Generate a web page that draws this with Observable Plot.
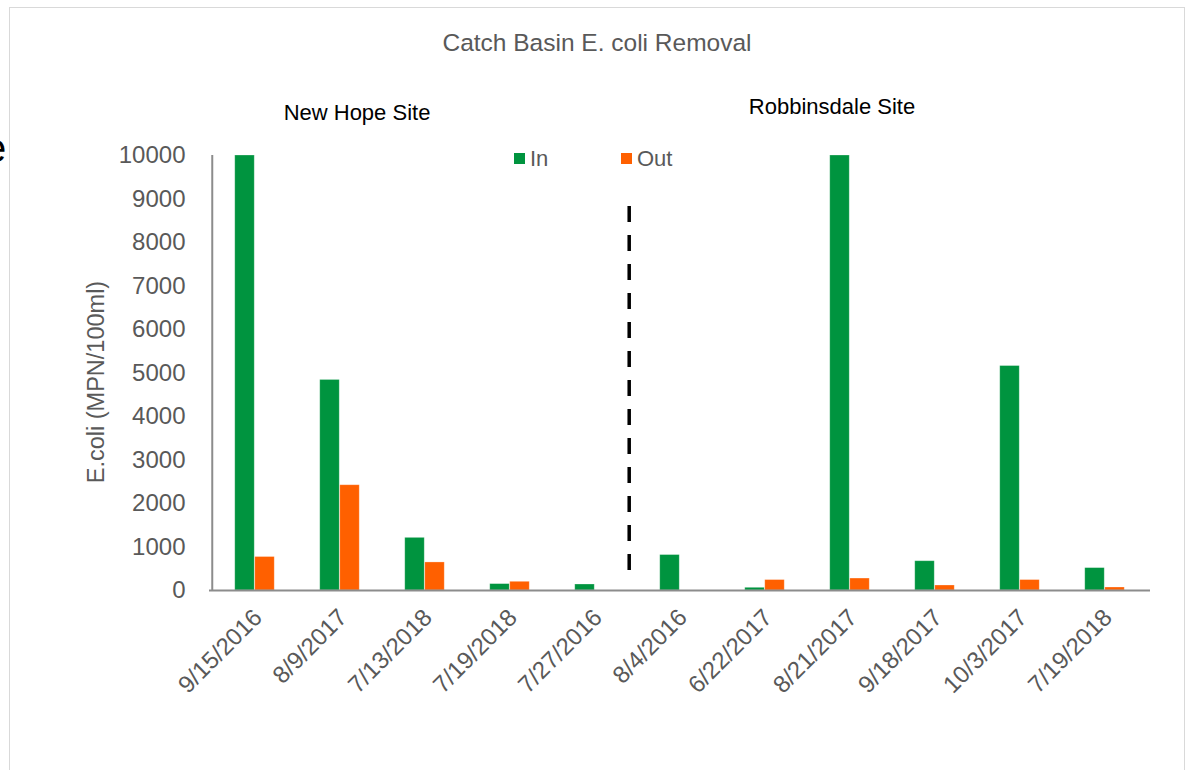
<!DOCTYPE html>
<html>
<head>
<meta charset="utf-8">
<script src="https://cdn.jsdelivr.net/npm/d3@7"></script>
<script src="https://cdn.jsdelivr.net/npm/@observablehq/plot@0.6"></script>
<style>
  html, body { margin: 0; padding: 0; background: #fff; overflow: hidden; }
  body { width: 1189px; height: 770px; position: relative; font-family: "Liberation Sans", Arial, sans-serif; }
  #frame { position: absolute; left: 9px; top: 7px; width: 1176px; height: 800px; border: 1.5px solid #d9d9d9; box-sizing: border-box; }
  #chart { position: absolute; left: 0; top: 0; }
  .lbl { position: absolute; white-space: nowrap; line-height: 1; }
  #title { left: 597px; top: 31px; transform: translateX(-50%); font-size: 24.5px; color: #595959; }
  #nh { left: 357px; top: 102px; transform: translateX(-50%); font-size: 22px; color: #000; }
  #rb { left: 832px; top: 96px; transform: translateX(-50%); font-size: 22px; color: #000; }
  #ylab { left: 97px; top: 382px; transform: translate(-50%, -50%) rotate(-90deg); font-size: 23.5px; color: #595959; }
  .sw { position: absolute; width: 11px; height: 11px; }
  #frag { left: -16px; top: 128px; font-size: 40px; color: #000; }
</style>
</head>
<body>
<div id="frame"></div>
<div id="chart"></div>
<div class="lbl" id="title">Catch Basin E. coli Removal</div>
<div class="lbl" id="nh">New Hope Site</div>
<div class="lbl" id="rb">Robbinsdale Site</div>
<div class="lbl" id="ylab">E.coli (MPN/100ml)</div>
<div class="lbl" id="frag">e</div>
<div class="sw" style="left:514px;top:153px;background:#00943F"></div>
<div class="lbl" style="left:530px;top:148px;font-size:22px;color:#595959">In</div>
<div class="sw" style="left:621px;top:153px;background:#FF6000"></div>
<div class="lbl" style="left:637px;top:148px;font-size:22px;color:#595959">Out</div>
<script>
const categories = ["9/15/2016","8/9/2017","7/13/2018","7/19/2018","7/27/2016","8/4/2016","6/22/2017","8/21/2017","9/18/2017","10/3/2017","7/19/2018"];
const inValues  = [10000, 4840, 1210, 147, 138, 815, 62, 10000, 673, 5160, 515];
const outValues = [770, 2420, 645, 200, 0, 0, 240, 275, 115, 240, 69];
const yTicks = [0,1000,2000,3000,4000,5000,6000,7000,8000,9000,10000];
const dividerAfter = 4;          // divider between New Hope and Robbinsdale groups
const dividerRange = [8830, 440]; // top and bottom of the dashed divider (data units)

const idx = categories.map((_, i) => i);
const inRows = idx.map(i => ({i, v: inValues[i]}));
const outRows = idx.map(i => ({i, v: outValues[i]}));

const chart = Plot.plot({
  width: 1189,
  height: 770,
  marginLeft: 209,
  marginRight: 39,
  marginTop: 155,
  marginBottom: 180,
  style: {fontFamily: "'Liberation Sans', Arial, sans-serif", fontSize: "22px", color: "#595959", background: "transparent", overflow: "visible"},
  x: {type: "band", domain: idx, padding: 0},
  y: {domain: [0, 10000]},
  marks: [
    Plot.barY(inRows, {x: "i", y: "v", fill: "#00943F", insetLeft: 22.75, insetRight: 42.75, stroke: "#ffffff", strokeOpacity: 0.35, strokeWidth: 0.8}),
    Plot.barY(outRows, {x: "i", y: "v", fill: "#FF6000", insetLeft: 42.75, insetRight: 22.75, stroke: "#ffffff", strokeOpacity: 0.35, strokeWidth: 0.8}),
    Plot.ruleY([0], {stroke: "#8c8c8c", strokeWidth: 2}),
    Plot.ruleX([0], {y1: 0, y2: 10000, dx: -42.75, stroke: "#8c8c8c", strokeWidth: 2}),
    Plot.ruleX([dividerAfter], {y1: dividerRange[0], y2: dividerRange[1], dx: 34.2, stroke: "#000", strokeWidth: 3.5, strokeDasharray: "16,13"}),
    Plot.axisY({ticks: yTicks, tickSize: 0, tickPadding: 24, tickFormat: d => String(d), label: null, fontSize: 24, fill: "#595959"}),
    Plot.axisX({tickSize: 0, tickRotate: -45, tickPadding: 14, dy: 9, dx: 3, tickFormat: i => categories[i], label: null, fontSize: 24, fill: "#595959"})
  ]
});
document.getElementById("chart").appendChild(chart);
</script>
</body>
</html>
